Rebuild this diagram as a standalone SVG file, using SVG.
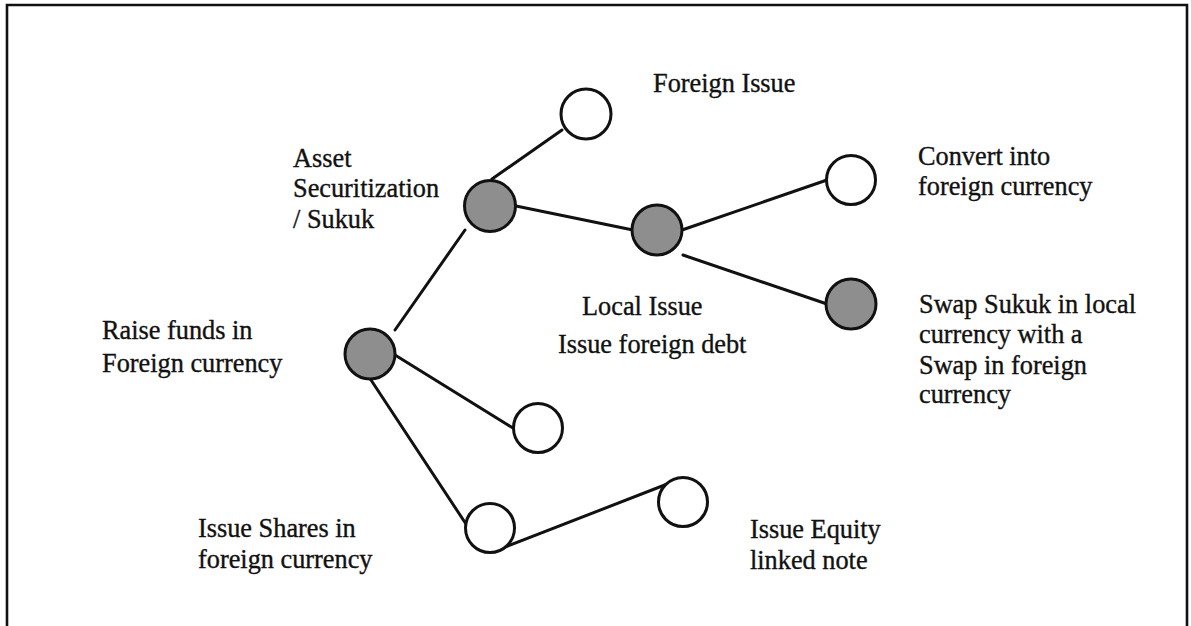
<svg xmlns="http://www.w3.org/2000/svg" width="1191" height="626" viewBox="0 0 1191 626">
  <style>
    .frame { fill: none; stroke: #111; stroke-width: 2.6; }
    .edge { stroke: #111; stroke-width: 3; stroke-linecap: round; fill: none; }
    .node { stroke: #111; stroke-width: 3; }
    .on { fill: #8e8e8e; }
    .off { fill: #fff; }
    text { font-family: "Liberation Serif", "Times New Roman", serif; font-size: 26.3px; fill: #111; stroke: #111; stroke-width: 0.35; }
  </style>
  <rect width="1191" height="626" fill="#fff"/>
  <!-- outer frame, open at the bottom -->
  <path class="frame" d="M7,626 V5 H1187 V626"/>

  <!-- connectors -->
  <g id="connectors">
    <line class="edge" x1="395" y1="330" x2="465" y2="230"/>
    <line class="edge" x1="492" y1="179" x2="562" y2="130"/>
    <line class="edge" x1="516" y1="206" x2="633" y2="230"/>
    <line class="edge" x1="682" y1="230" x2="827" y2="180"/>
    <line class="edge" x1="683" y1="255" x2="827" y2="304"/>
    <line class="edge" x1="395" y1="355" x2="513" y2="428"/>
    <line class="edge" x1="371" y1="380" x2="466" y2="524"/>
    <line class="edge" x1="495" y1="551" x2="675" y2="481"/>
  </g>

  <!-- nodes -->
  <g id="raise-funds">
    <circle class="node on" cx="370" cy="354" r="25"/>
    <text x="102" y="339">Raise funds in</text>
    <text x="102" y="372">Foreign currency</text>
  </g>
  <g id="asset-securitization">
    <circle class="node on" cx="490" cy="206" r="25.5"/>
    <text x="293" y="167">Asset</text>
    <text x="293" y="197">Securitization</text>
    <text x="293" y="228">/ Sukuk</text>
  </g>
  <g id="foreign-issue">
    <circle class="node off" cx="586" cy="114" r="25"/>
    <text x="653" y="92">Foreign Issue</text>
  </g>
  <g id="local-issue">
    <circle class="node on" cx="657" cy="230" r="25"/>
    <text x="582" y="315">Local Issue</text>
  </g>
  <g id="convert">
    <circle class="node off" cx="851" cy="180" r="24.5"/>
    <text x="918" y="165">Convert into</text>
    <text x="918" y="195">foreign currency</text>
  </g>
  <g id="swap">
    <circle class="node on" cx="851" cy="304" r="25"/>
    <text x="919" y="313">Swap Sukuk in local</text>
    <text x="919" y="343">currency with a</text>
    <text x="919" y="374">Swap in foreign</text>
    <text x="919" y="403">currency</text>
  </g>
  <g id="foreign-debt">
    <circle class="node off" cx="538" cy="428" r="24.5"/>
    <text x="558" y="353">Issue foreign debt</text>
  </g>
  <g id="issue-shares">
    <circle class="node off" cx="490" cy="528" r="24.5"/>
    <text x="198" y="537">Issue Shares in</text>
    <text x="198" y="568">foreign currency</text>
  </g>
  <g id="equity-note">
    <circle class="node off" cx="683" cy="502" r="24.5"/>
    <text x="750" y="538">Issue Equity</text>
    <text x="750" y="569">linked note</text>
  </g>
</svg>
